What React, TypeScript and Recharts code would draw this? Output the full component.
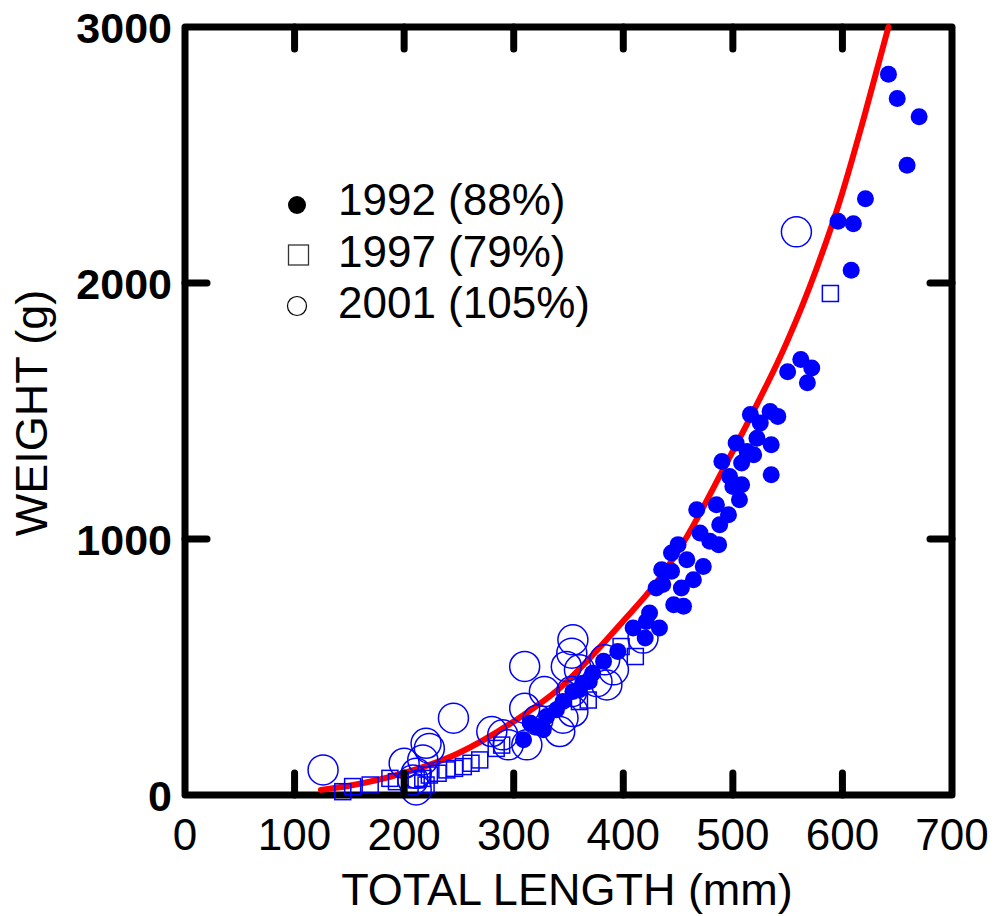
import React from 'react';
import { ComposedChart, Scatter, Line, XAxis, YAxis, ReferenceArea } from 'recharts';

// values (length in mm, weight in g)
const LEN_1992 = [309, 315, 321, 327, 330, 339, 345, 354, 360, 363, 369, 372, 382, 395, 409, 420, 421, 424, 430, 433, 435, 436, 444, 444, 446, 450, 453, 455, 458, 464, 467, 470, 473, 479, 485, 487, 488, 490, 496, 497, 500, 503, 506, 508, 508, 513, 516, 519, 522, 525, 534, 535, 535, 541, 550, 562, 568, 572, 596, 608, 610, 621, 642, 650, 659, 670];
const WT_1992 = [216, 281, 268, 255, 307, 333, 365, 404, 411, 437, 443, 476, 522, 561, 652, 613, 678, 711, 809, 652, 880, 822, 945, 874, 743, 978, 809, 737, 919, 841, 1114, 1023, 893, 991, 1134, 978, 1056, 1303, 1095, 1244, 1205, 1375, 1153, 1297, 1212, 1342, 1486, 1329, 1394, 1453, 1498, 1368, 1251, 1479, 1653, 1701, 1610, 1668, 2241, 2050, 2231, 2329, 2815, 2721, 2460, 2649];

const LEN_1997 = [144, 153, 169, 187, 193, 211, 217, 220, 223, 231, 239, 246, 254, 261, 269, 284, 289, 360, 368, 398, 411, 589];
const WT_1997 = [13, 33, 39, 65, 52, 59, 65, 39, 78, 85, 98, 104, 111, 124, 137, 182, 195, 365, 371, 580, 541, 1959];

const LEN_2001 = [126, 200, 208, 211, 211, 217, 220, 223, 245, 280, 290, 295, 310, 310, 312, 322, 328, 342, 345, 348, 353, 353, 354, 354, 360, 376, 383, 385, 391, 418, 558];
const WT_2001 = [98, 124, 59, 85, 20, 137, 202, 182, 300, 248, 235, 196, 502, 339, 196, 293, 404, 248, 300, 502, 554, 404, 606, 326, 489, 443, 528, 430, 489, 613, 2200];

// fitted curve
const FIT_LEN = [124, 150, 200, 248, 300, 340, 400, 430, 458, 491, 518, 549, 576, 598, 620, 642];
const FIT_WT = [20, 36, 86, 160, 287, 410, 680, 829, 1009, 1271, 1492, 1766, 2052, 2326, 2652, 3000];

const X_TICKS = [0, 100, 200, 300, 400, 500, 600, 700];
const Y_TICKS = [0, 1000, 2000, 3000];
const LEGEND = ['1992 (88%)', '1997 (79%)', '2001 (105%)'];

const zip = (xs: number[], ys: number[]) => xs.map((x, i) => ({ x, y: ys[i] }));

const data1992 = zip(LEN_1992, WT_1992);
const data1997 = zip(LEN_1997, WT_1997);
const data2001 = zip(LEN_2001, WT_2001);
const fitData = zip(FIT_LEN, FIT_WT);

const FONT = 'Arial, "Liberation Sans", Helvetica, sans-serif';
const BLUE = '#0000ff';
const LEFT = 185, RIGHT = 952, TOP = 27, BOTTOM = 795;

const XTick = (props: any) => {
  const { x, payload } = props;
  const v = payload.value;
  const inner = v > 0 && v < 700;
  return (
    <g>
      {inner && <line x1={x} x2={x} y1={BOTTOM} y2={BOTTOM - 22} stroke="#000" strokeWidth={7} strokeLinecap="round" />}
      {inner && <line x1={x} x2={x} y1={TOP} y2={TOP + 22} stroke="#000" strokeWidth={7} strokeLinecap="round" />}
      <text x={x} y={850} textAnchor="middle" fontSize={44} fontFamily={FONT} fill="#000">{v}</text>
    </g>
  );
};

const YTick = (props: any) => {
  const { y, payload } = props;
  const v = payload.value;
  const inner = v > 0 && v < 3000;
  return (
    <g>
      {inner && <line x1={LEFT} x2={LEFT + 22} y1={y} y2={y} stroke="#000" strokeWidth={7} strokeLinecap="round" />}
      {inner && <line x1={RIGHT} x2={RIGHT - 22} y1={y} y2={y} stroke="#000" strokeWidth={7} strokeLinecap="round" />}
      <text x={172} y={y + 15.5} textAnchor="end" fontSize={43} fontWeight="bold" fontFamily={FONT} fill="#000">{v}</text>
    </g>
  );
};

const filledDot = (p: any) => <circle cx={p.cx} cy={p.cy} r={8.5} fill={BLUE} />;
const openSquare = (p: any) => (
  <rect x={p.cx - 8} y={p.cy - 8} width={16} height={16} fill="none" stroke={BLUE} strokeWidth={1.5} />
);
const openCircle = (p: any) => <circle cx={p.cx} cy={p.cy} r={15} fill="none" stroke={BLUE} strokeWidth={1.5} />;

export default function App() {
  return (
    <div style={{ position: 'absolute', left: 0, top: 0, width: 997, height: 916, background: '#fff' }}>
      <ComposedChart width={997} height={916} margin={{ top: TOP, right: 997 - RIGHT, bottom: 0, left: 0 }}>
        <XAxis
          dataKey="x"
          type="number"
          domain={[0, 700]}
          ticks={X_TICKS}
          interval={0}
          height={916 - BOTTOM}
          axisLine={false}
          tickLine={false}
          tick={XTick}
          label={() => (
            <text x={567} y={905} textAnchor="middle" fontSize={45} fontFamily={FONT} fill="#000">TOTAL LENGTH (mm)</text>
          )}
        />
        <YAxis
          type="number"
          domain={[0, 3000]}
          ticks={Y_TICKS}
          interval={0}
          width={LEFT}
          axisLine={false}
          tickLine={false}
          tick={YTick}
          label={() => (
            <text x={47} y={413} transform="rotate(-90, 47, 413)" textAnchor="middle" fontSize={45} fontFamily={FONT} fill="#000">WEIGHT (g)</text>
          )}
        />
        <Scatter name="2001" data={data2001} dataKey="y" shape={openCircle} isAnimationActive={false} />
        <Scatter name="1997" data={data1997} dataKey="y" shape={openSquare} isAnimationActive={false} />
        <Scatter name="1992" data={data1992} dataKey="y" shape={filledDot} isAnimationActive={false} />
        <Line
          data={fitData}
          dataKey="y"
          type="monotone"
          stroke="#ff0000"
          strokeWidth={6}
          strokeLinecap="round"
          dot={false}
          activeDot={false}
          isAnimationActive={false}
        />
        <ReferenceArea x1={0} x2={700} y1={0} y2={3000} fill="none" stroke="#000" strokeWidth={7} strokeLinejoin="round" />
      </ComposedChart>

      {/* legend drawn over the plot, black markers */}
      <svg width={997} height={916} style={{ position: 'absolute', left: 0, top: 0, pointerEvents: 'none' }}>
        <circle cx={297} cy={205} r={9} fill="#000" />
        <rect x={288.5} y={245} width={20} height={20} fill="none" stroke="#333" strokeWidth={1.3} />
        <circle cx={297} cy={306} r={9.5} fill="none" stroke="#000" strokeWidth={1.2} />
        {LEGEND.map((t, i) => (
          <text key={t} x={338} y={[215, 267, 318][i]} fontSize={44} fontFamily={FONT} fill="#000">{t}</text>
        ))}
      </svg>
    </div>
  );
}
